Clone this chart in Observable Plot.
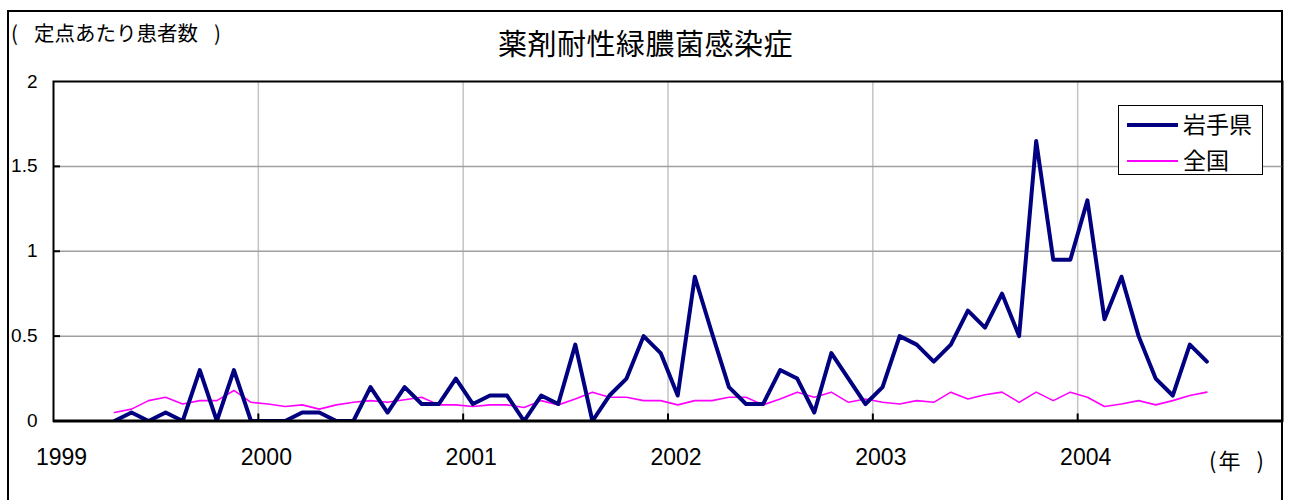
<!DOCTYPE html>
<html lang="ja">
<head>
<meta charset="utf-8">
<script src="https://cdn.jsdelivr.net/npm/d3@7"></script>
<script src="https://cdn.jsdelivr.net/npm/@observablehq/plot@0.6"></script>
<style>
  html, body { margin: 0; padding: 0; background: #fff; }
  #wrap { position: relative; width: 1291px; height: 500px; overflow: hidden; background: #fff; }
  #outer { position: absolute; left: 7px; top: 10px; width: 1272px; height: 600px; border: 2px solid #000; }
  #chart { position: absolute; left: 0; top: 0; }
  .jp { font-family: "Noto Sans CJK JP", "Noto Sans", sans-serif; color: #000; position: absolute; white-space: pre; }
  #title { left: 0; width: 1291px; text-align: center; top: 28px; font-size: 29px; line-height: 29px; letter-spacing: 0.5px; }
  #ylab { left: 11px; top: 22px; font-size: 20.5px; line-height: 20.5px; }
  #xlab { left: 1209px; top: 448px; font-size: 22px; line-height: 22px; }
  #legend { position: absolute; left: 1118px; top: 105px; width: 145px; height: 70px; box-sizing: border-box; border: 1.5px solid #000; background: #fff; }
  .sw { position: absolute; left: 8px; width: 51px; }
  .lt { position: absolute; left: 64px; font-size: 23px; line-height: 23px; font-family: "Noto Sans CJK JP", sans-serif; }
</style>
</head>
<body>
<div id="wrap">
  <div id="outer"></div>
  <div id="chart"></div>
  <div id="title" class="jp"></div>
  <div id="ylab" class="jp"></div>
  <div id="xlab" class="jp"></div>
  <div id="legend"></div>
</div>
<script>
// ---- data ----
const titleText = "薬剤耐性緑膿菌感染症";
const yLabelText = "定点あたり患者数";
const xLabelText = "年";
const seriesNames = ["岩手県", "全国"];
const seriesColors = ["#000080", "#ff00ff"];
const yearTicks = [1999, 2000, 2001, 2002, 2003, 2004];
const yTicks = [0, 0.5, 1, 1.5, 2];
const firstMonth = "1999-04";
const lastMonth = "2004-08";

// 岩手県 (monthly, Apr 1999 – Aug 2004)
const iwate = [
  0, 0.05, 0, 0.05, 0, 0.3, 0, 0.3, 0,
  0, 0, 0.05, 0.05, 0, 0, 0.2, 0.05, 0.2, 0.1, 0.1, 0.25,
  0.1, 0.15, 0.15, 0, 0.15, 0.1, 0.45, 0, 0.15, 0.25, 0.5, 0.4,
  0.15, 0.85, 0.52, 0.2, 0.1, 0.1, 0.3, 0.25, 0.05, 0.4, 0.25, 0.1,
  0.2, 0.5, 0.45, 0.35, 0.45, 0.65, 0.55, 0.75, 0.5, 1.65, 0.95, 0.95,
  1.3, 0.6, 0.85, 0.5, 0.25, 0.15, 0.45, 0.35
];
// 全国
const zenkoku = [
  0.05, 0.07, 0.12, 0.14, 0.10, 0.12, 0.12, 0.18, 0.11,
  0.10, 0.085, 0.095, 0.07, 0.095, 0.11, 0.12, 0.11, 0.125, 0.14, 0.095, 0.095,
  0.085, 0.095, 0.095, 0.08, 0.12, 0.095, 0.13, 0.17, 0.14, 0.14, 0.12, 0.12,
  0.095, 0.12, 0.12, 0.14, 0.14, 0.095, 0.13, 0.17, 0.14, 0.17, 0.11, 0.13,
  0.11, 0.10, 0.12, 0.11, 0.17, 0.13, 0.155, 0.17, 0.11, 0.17, 0.12, 0.17,
  0.14, 0.085, 0.10, 0.12, 0.095, 0.12, 0.15, 0.17
];

// ---- build table ----
const parseM = d3.utcParse("%Y-%m");
const months = d3.utcMonth.range(parseM(firstMonth), d3.utcMonth.offset(parseM(lastMonth), 1));
const rows = months.map((m, i) => ({
  t: m.getUTCFullYear() + (m.getUTCMonth() + 0.57) / 12,
  iwate: iwate[i],
  zenkoku: zenkoku[i]
}));

const W = 1291, H = 500;
const mL = 53, mR = 9, mT = 81, mB = 79.5;
const frameW = W - mL - mR, frameH = H - mT - mB;

const chart = Plot.plot({
  width: W, height: H,
  marginLeft: mL, marginRight: mR, marginTop: mT, marginBottom: mB,
  style: { fontFamily: "'Liberation Sans', Arial, sans-serif", color: "#000", background: "transparent", overflow: "visible" },
  x: { type: "linear", domain: [yearTicks[0], yearTicks[yearTicks.length - 1] + 1], label: null },
  y: { domain: [yTicks[0], yTicks[yTicks.length - 1]], label: null },
  marks: [
    Plot.gridX(yearTicks.slice(1), { stroke: "#c4c4c4", strokeOpacity: 1, strokeWidth: 1.5 }),
    Plot.gridY(yTicks.slice(1, -1), { stroke: "#a0a0a0", strokeOpacity: 1, strokeWidth: 1.5 }),
    Plot.line(rows, { x: "t", y: "zenkoku", stroke: seriesColors[1], strokeWidth: 1.6, clip: true }),
    Plot.line(rows, { x: "t", y: "iwate", stroke: seriesColors[0], strokeWidth: 4, clip: true }),
    Plot.frame({ stroke: "#000", strokeWidth: 2 }),
    Plot.ruleY([0], { stroke: "#000", strokeWidth: 3 }),
    Plot.tickX(yearTicks.slice(1), { x: d => d, insetTop: frameH - 7, stroke: "#000", strokeWidth: 2 }),
    Plot.tickY(yTicks.slice(1, -1), { y: d => d, insetRight: frameW - 7, stroke: "#000", strokeWidth: 2 }),
    Plot.axisX(yearTicks, { tickSize: 0, tickPadding: 28, dx: 8, fontSize: 23, tickFormat: d => String(d), label: null }),
    Plot.axisY(yTicks, { tickSize: 0, tickPadding: 16, fontSize: 19, tickFormat: d => String(d), label: null })
  ]
});
document.getElementById("chart").appendChild(chart);

// ---- texts ----
document.getElementById("title").textContent = titleText;
document.getElementById("ylab").innerHTML =
  '<span>(</span><span style="margin-left:16px">' + yLabelText + '</span><span style="margin-left:16px">)</span>';
document.getElementById("xlab").innerHTML =
  '<span>(</span><span style="margin-left:2px">' + xLabelText + '</span><span style="margin-left:16px">)</span>';

// ---- legend ----
const leg = document.getElementById("legend");
const rowsY = [19, 54.5];
seriesNames.forEach((name, i) => {
  const sw = document.createElement("div");
  sw.className = "sw";
  const th = i === 0 ? 4 : 2;
  sw.style.top = (rowsY[i] - th / 2) + "px";
  sw.style.height = th + "px";
  sw.style.background = seriesColors[i];
  leg.appendChild(sw);
  const t = document.createElement("div");
  t.className = "lt";
  t.style.top = (rowsY[i] - 12.8) + "px";
  t.textContent = name;
  leg.appendChild(t);
});
</script>
</body>
</html>
